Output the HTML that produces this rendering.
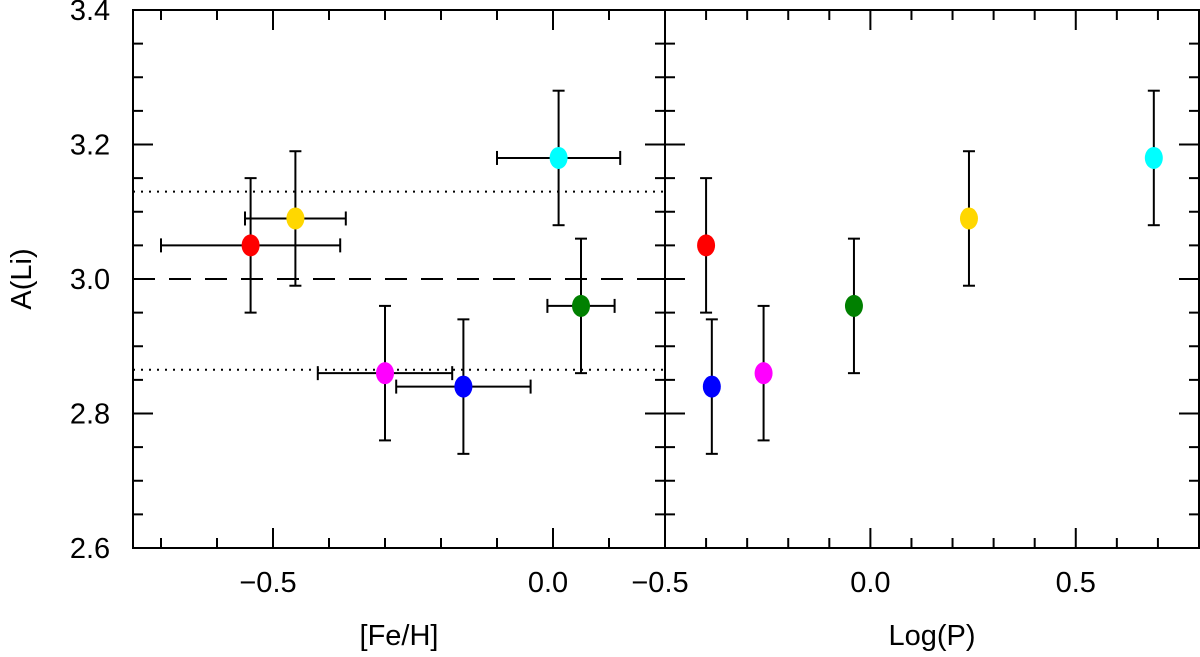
<!DOCTYPE html>
<html><head><meta charset="utf-8"><style>
html,body{margin:0;padding:0;background:#fff}
svg text{font-family:"Liberation Sans",sans-serif;fill:#000}
</style></head><body>
<svg id="c" width="1200" height="652" viewBox="0 0 1200 652" xmlns="http://www.w3.org/2000/svg"></svg>
<script>
const colors=["red","#ffd700","magenta","blue","cyan","green"];
const feh=[-0.54,-0.46,-0.30,-0.16,0.01,0.05];
const fehLo=[-0.70,-0.55,-0.42,-0.28,-0.10,-0.01];
const fehHi=[-0.38,-0.37,-0.18,-0.04,0.12,0.11];
const logP=[-0.40,0.24,-0.26,-0.386,0.69,-0.04];
const ali=[3.05,3.09,2.86,2.84,3.18,2.96];
const aliErr=[0.1,0.1,0.1,0.1,0.1,0.1];
const refLines=[3.13,2.865];
const meanLine=[3.0];
const yTicks=["2.6","2.8","3.0","3.2","3.4"];
const x1Ticks=["-0.5","0.0"];
const x2Ticks=["-0.5","0.0","0.5"];

const svg=document.getElementById('c');
const NS="http://www.w3.org/2000/svg";
const T=10,B=548,L1=133,R1=665,L2=665,R2=1199;
const Y=v=>B-(v-2.6)/0.8*(B-T);
const X1=v=>L1+(v+0.75)/0.95*(R1-L1);
const X2=v=>L2+(v+0.5)/1.3*(R2-L2);
function el(tag,a,name){const e=document.createElementNS(NS,tag);for(const k in a)e.setAttribute(k,a[k]);


svg.appendChild(e);return e;}
function line(x1,y1,x2,y2,name,extra){return el('line',Object.assign({x1,y1,x2,y2,stroke:'#000','stroke-width':2},extra||{}),name);}
function txt(x,y,s,name,extra){const t=el('text',Object.assign({x,y,'font-size':29,'text-anchor':'middle'},extra||{}),name);t.textContent=s.replace('-','\u2212');return t;}

el('rect',{x:L1,y:T,width:R2-L1,height:B-T,fill:'none',stroke:'#000','stroke-width':2},'plot-frame');
line(R1,T,R1,B,'panel-divider');

for(let i=0;i<=16;i++){const v=2.6+i*0.05;const y=Y(v);const maj=i%4==0;const len=maj?20:10;
 line(L1,y,L1+len,y,'y-tick');line(R1-len,y,R1+len,y,'y-tick-mid');line(R2-len,y,R2,y,'y-tick-right');}
yTicks.forEach(s=>txt(90,Y(+s)+10,s,'y-tick-label'));

for(let i=-7;i<=1;i++){const v=i*0.1;const x=X1(v);const maj=(i%5==0);const len=maj?20:10;
 line(x,B,x,B-len,'x1-tick');line(x,T,x,T+len,'x1-tick-top');}
x1Ticks.forEach(s=>txt(X1(+s)-5,592,s,'x1-tick-label'));
for(let i=-4;i<=7;i++){const v=i*0.1;const x=X2(v);const maj=(i%5==0);const len=maj?20:10;
 line(x,B,x,B-len,'x2-tick');line(x,T,x,T+len,'x2-tick-top');}
x2Ticks.forEach(s=>txt(X2(+s)-(s[0]=='-'?5:0),592,s,'x2-tick-label'));

txt(399,645,'[Fe/H]','x1-axis-title');
txt(932,645,'Log(P)','x2-axis-title');
txt(0,0,'A(Li)','y-axis-title',{transform:`translate(31,${Y(3.0)}) rotate(-90)`});

refLines.forEach(v=>line(L1,Y(v),R1,Y(v),'dotted-reference-line',{'stroke-dasharray':'2,6','stroke-width':2}));
meanLine.forEach(v=>line(L1,Y(v),R1,Y(v),'dashed-mean-line',{'stroke-dasharray':'22,14','stroke-width':2}));

function point(x,y,lo,hi,yl,yh,c,name){
 line(x,yl,x,yh,name+'-yerr');line(x-6,yl,x+6,yl,name+'-ycap');line(x-6,yh,x+6,yh,name+'-ycap');
 if(lo!==null){line(lo,y,hi,y,name+'-xerr');line(lo,y-7,lo,y+7,name+'-xcap');line(hi,y-7,hi,y+7,name+'-xcap');}
 el('ellipse',{cx:x,cy:y,rx:9,ry:11,fill:c},name+'-marker');
}
for(let i=0;i<ali.length;i++){
 point(X1(feh[i]),Y(ali[i]),X1(fehLo[i]),X1(fehHi[i]),Y(ali[i]-aliErr[i]),Y(ali[i]+aliErr[i]),colors[i],'feh-point');
 point(X2(logP[i]),Y(ali[i]),null,null,Y(ali[i]-aliErr[i]),Y(ali[i]+aliErr[i]),colors[i],'logp-point');
}
</script>
</body></html>
